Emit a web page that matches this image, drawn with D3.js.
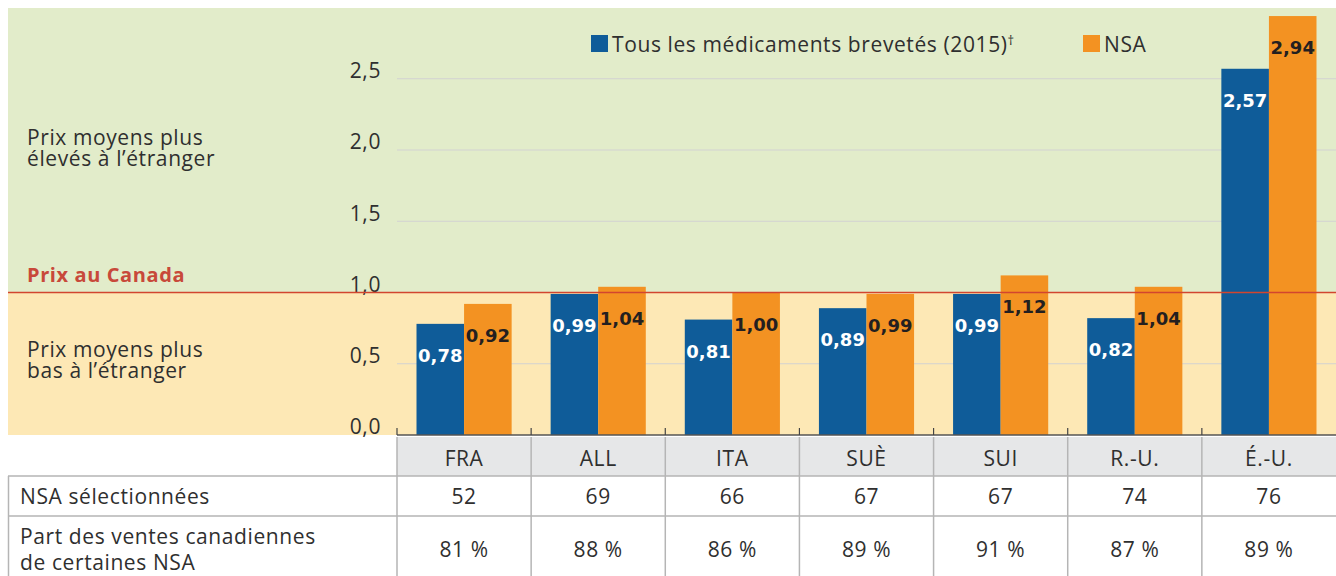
<!DOCTYPE html>
<html>
<head>
<meta charset="utf-8">
<script src="https://cdn.jsdelivr.net/npm/d3@7"></script>
<style>
  body { margin: 0; background: #fff; }
  svg { display: block; font-family: "Open Sans", sans-serif; }
  svg text { letter-spacing: 0.6px; }
  svg text.val { letter-spacing: 0; }
</style>
</head>
<body>
<div id="chart"></div>
<script>
// data
var categories = ['FRA', 'ALL', 'ITA', 'SUÈ', 'SUI', 'R.-U.', 'É.-U.'];
var tousValues = [0.78, 0.99, 0.81, 0.89, 0.99, 0.82, 2.57];
var nsaValues = [0.92, 1.04, 1.00, 0.99, 1.12, 1.04, 2.94];
var nsaCount = [52, 69, 66, 67, 67, 74, 76];
var salesShare = [81, 88, 86, 89, 91, 87, 89];
var yTicks = [0, 0.5, 1.0, 1.5, 2.0, 2.5];
var seriesNames = ['Tous les médicaments brevetés (2015)', 'NSA'];

var W = 1336, H = 576;
var cfg = {
  left: 397, right: 1336, top: 8, base: 435,
  blue: '#0f5c99', orange: '#f39222',
  green: '#e2ecca', yellow: '#fde8b5',
  grid: '#d2d2d2', red: '#d2452f', text: '#2f2f2f', fs: 21
};

var fr = d3.formatLocale({decimal: ',', thousands: ' ', grouping: [3], currency: ['', ' $']});
var f1 = fr.format('.1f'), f2 = fr.format('.2f');

var svg = d3.select('#chart').append('svg').attr('width', W).attr('height', H);

var x = d3.scaleBand().domain(categories).range([cfg.left, cfg.right]).padding(0);
var xs = d3.scaleBand().domain(['tous', 'nsa']).range([0, x.bandwidth()]).paddingInner(0).paddingOuter(0.41);
var y = d3.scaleLinear().domain([0, 1]).range([cfg.base, 292.5]);

// background zones
svg.append('rect').attr('x', 8).attr('y', cfg.top).attr('width', W - 8)
  .attr('height', y(1) - cfg.top).attr('fill', cfg.green);
svg.append('rect').attr('x', 8).attr('y', y(1)).attr('width', W - 8)
  .attr('height', cfg.base - y(1)).attr('fill', cfg.yellow);

// gridlines
svg.append('g').selectAll('line').data(yTicks.filter(function(d) { return d > 0 && d !== 1; }))
  .enter().append('line')
  .attr('x1', cfg.left).attr('x2', cfg.right)
  .attr('y1', function(d) { return y(d); }).attr('y2', function(d) { return y(d); })
  .attr('stroke', cfg.grid).attr('stroke-width', 1.2);

// y axis labels
var yAxis = d3.axisLeft(y).tickValues(yTicks).tickFormat(f1).tickSize(0).tickPadding(16);
var yg = svg.append('g').attr('transform', 'translate(' + cfg.left + ',0)').call(yAxis);
yg.select('.domain').remove();
yg.selectAll('text').attr('font-size', cfg.fs).attr('fill', cfg.text)
  .attr('font-family', '"Open Sans", sans-serif').attr('dy', '-0.05em');

// bars
var groups = svg.append('g').selectAll('g').data(categories).enter().append('g')
  .attr('transform', function(d) { return 'translate(' + x(d) + ',0)'; });

var series = [
  {key: 'tous', values: tousValues, color: cfg.blue, label: '#fff'},
  {key: 'nsa', values: nsaValues, color: cfg.orange, label: '#231f20'}
];

series.forEach(function(s) {
  groups.append('rect')
    .attr('x', xs(s.key)).attr('width', xs.bandwidth())
    .attr('y', function(d, i) { return y(s.values[i]); })
    .attr('height', function(d, i) { return cfg.base - y(s.values[i]); })
    .attr('fill', s.color);
  groups.append('text').attr('class', 'val')
    .attr('x', xs(s.key) + xs.bandwidth() / 2)
    .attr('y', function(d, i) { return y(s.values[i]) + 38; })
    .attr('text-anchor', 'middle')
    .attr('font-family', '"DejaVu Sans", sans-serif').attr('font-weight', 'bold')
    .attr('font-size', 18).attr('fill', s.label)
    .text(function(d, i) { return f2(s.values[i]); });
});

// Canada reference line
svg.append('line').attr('x1', 8).attr('x2', W).attr('y1', y(1)).attr('y2', y(1))
  .attr('stroke', cfg.red).attr('stroke-width', 1.5);

// bottom axis line with ticks
svg.append('line').attr('x1', cfg.left).attr('x2', cfg.right)
  .attr('y1', cfg.base).attr('y2', cfg.base).attr('stroke', '#555').attr('stroke-width', 1.5);
svg.append('g').selectAll('line').data(categories).enter().append('line')
  .attr('x1', function(d) { return x(d); }).attr('x2', function(d) { return x(d); })
  .attr('y1', cfg.base - 7).attr('y2', cfg.base).attr('stroke', '#444').attr('stroke-width', 1.2);

// side labels
var side = svg.append('g').attr('font-size', cfg.fs).attr('fill', cfg.text);
side.append('text').attr('x', 27).attr('y', 145).text('Prix moyens plus');
side.append('text').attr('x', 27).attr('y', 166).text('élevés à l’étranger');
side.append('text').attr('x', 27).attr('y', 357).text('Prix moyens plus');
side.append('text').attr('x', 27).attr('y', 378).text('bas à l’étranger');
svg.append('text').attr('x', 27).attr('y', 282).attr('font-size', 20).attr('font-weight', 'bold')
  .attr('fill', '#c8493a').text('Prix au Canada');

// legend
var legend = svg.append('g').attr('font-size', cfg.fs).attr('fill', cfg.text);
var legX = [591, 1083];
series.forEach(function(s, i) {
  legend.append('rect').attr('x', legX[i]).attr('y', 35).attr('width', 17).attr('height', 17).attr('fill', s.color);
  var lt = legend.append('text').attr('x', legX[i] + 21).attr('y', 52).text(seriesNames[i]);
  if (i === 0) {
    lt.append('tspan').attr('font-size', 13).attr('dy', -7).text('†');
  }
});

// table
var t = {h0: 437, h1: 476, h2: 516, h3: 576, border: '#b5b5b5'};
var table = svg.append('g');
table.append('rect').attr('x', cfg.left).attr('y', t.h0).attr('width', cfg.right - cfg.left)
  .attr('height', t.h1 - t.h0).attr('fill', '#e6e7e8');
[t.h1, t.h2].forEach(function(yy) {
  table.append('line').attr('x1', 8).attr('x2', W).attr('y1', yy).attr('y2', yy)
    .attr('stroke', t.border).attr('stroke-width', 1.5);
});
table.append('line').attr('x1', 8.5).attr('x2', 8.5).attr('y1', t.h1).attr('y2', t.h3)
  .attr('stroke', t.border).attr('stroke-width', 1.5);
table.selectAll('.vl').data(categories).enter().append('line')
  .attr('x1', function(d) { return x(d); }).attr('x2', function(d) { return x(d); })
  .attr('y1', t.h0).attr('y2', t.h3).attr('stroke', t.border).attr('stroke-width', 1.5);

var cells = table.append('g').attr('font-size', cfg.fs).attr('fill', cfg.text).attr('text-anchor', 'middle');
cells.selectAll('.hd').data(categories).enter().append('text')
  .attr('x', function(d) { return x(d) + x.bandwidth() / 2; }).attr('y', 466).text(function(d) { return d; });
cells.selectAll('.r1').data(categories).enter().append('text')
  .attr('x', function(d) { return x(d) + x.bandwidth() / 2; }).attr('y', 504)
  .text(function(d, i) { return nsaCount[i]; });
cells.selectAll('.r2').data(categories).enter().append('text')
  .attr('x', function(d) { return x(d) + x.bandwidth() / 2; }).attr('y', 557)
  .text(function(d, i) { return salesShare[i] + ' %'; });

var rowLab = table.append('g').attr('font-size', cfg.fs).attr('fill', cfg.text);
rowLab.append('text').attr('x', 20).attr('y', 504).text('NSA sélectionnées');
rowLab.append('text').attr('x', 20).attr('y', 544).text('Part des ventes canadiennes');
rowLab.append('text').attr('x', 20).attr('y', 570).text('de certaines NSA');
</script>
</body>
</html>
